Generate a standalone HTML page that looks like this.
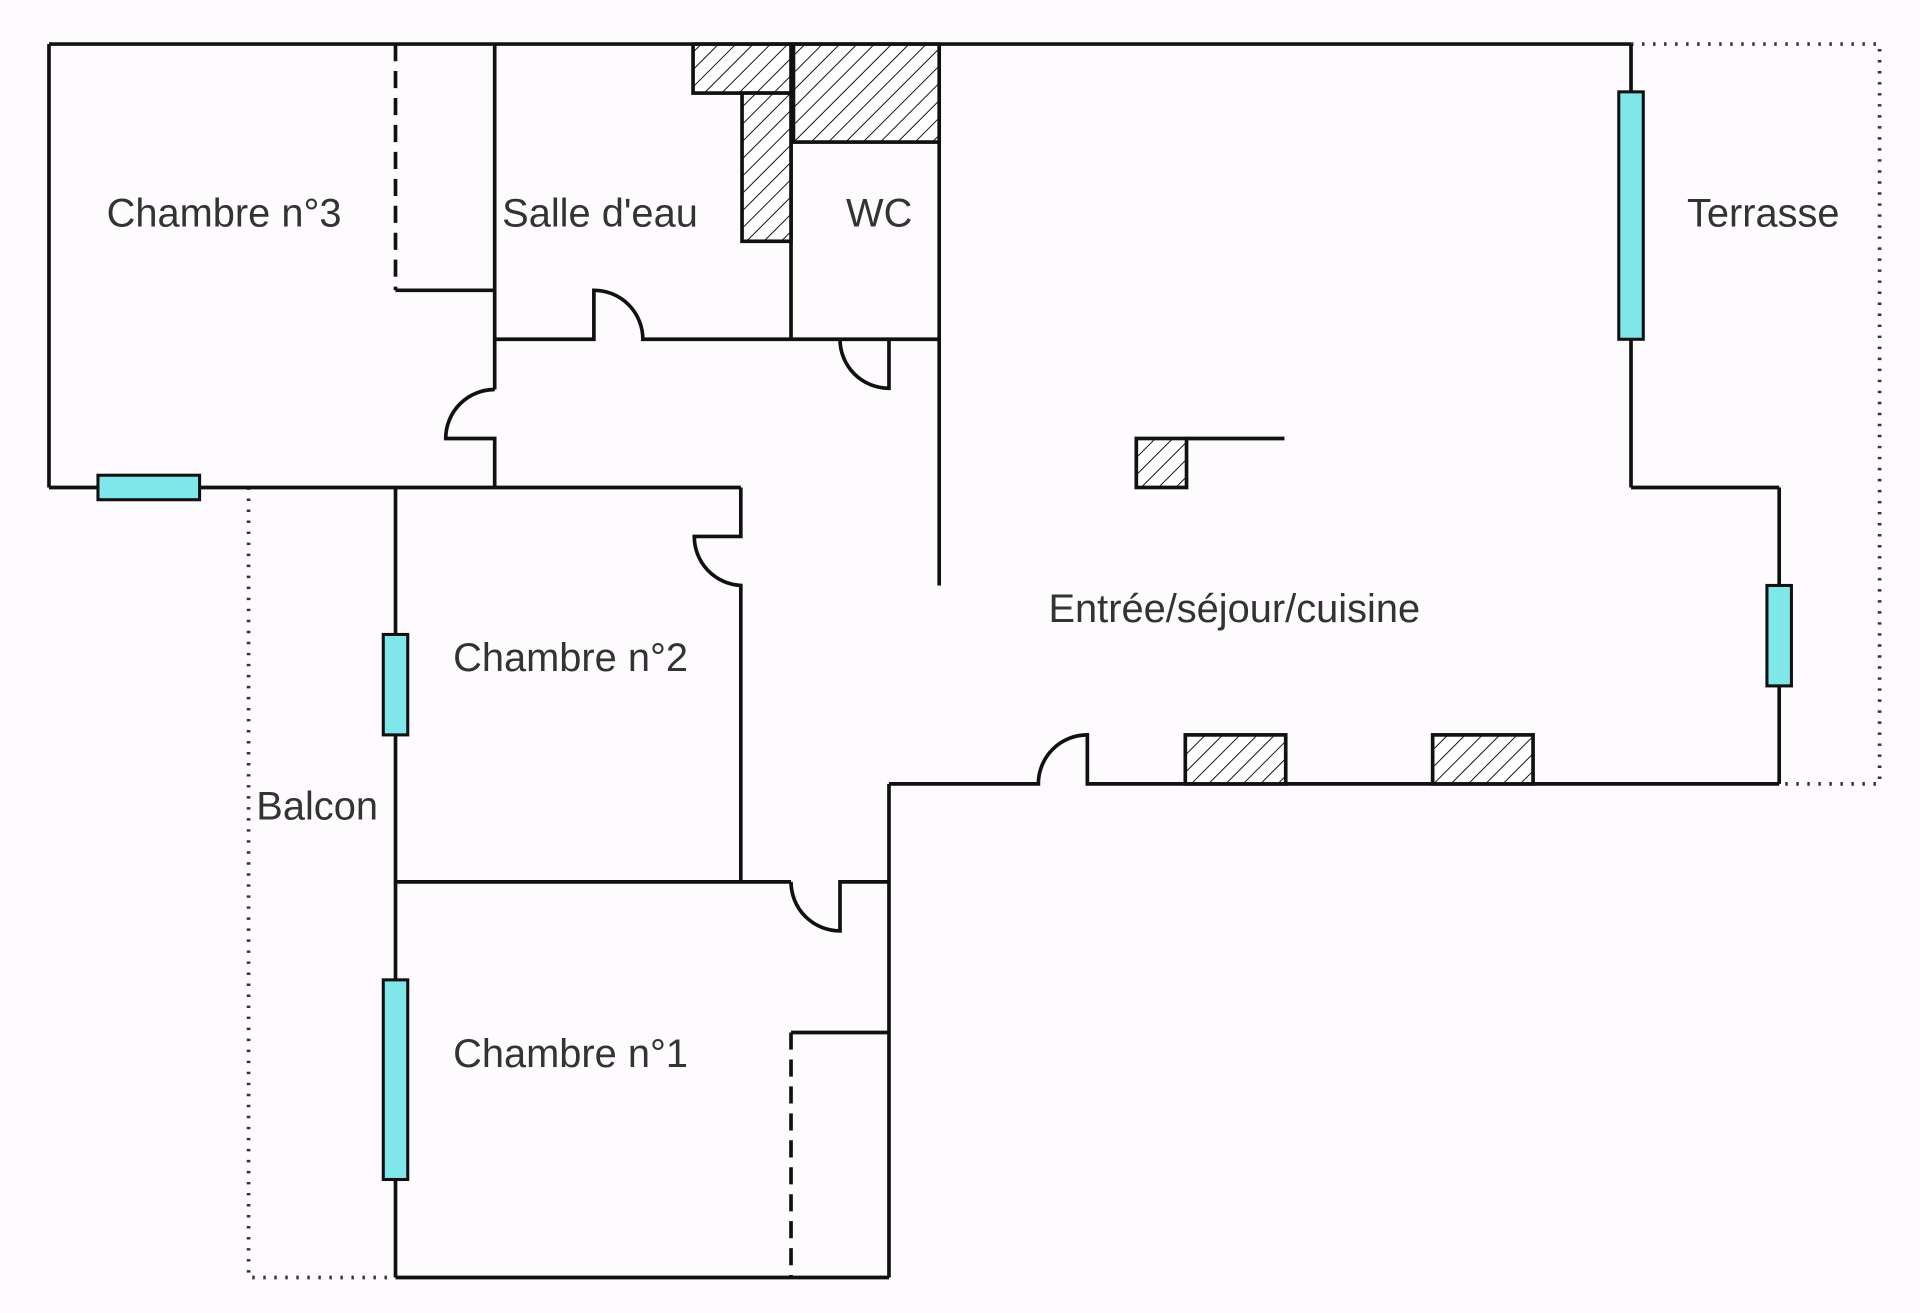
<!DOCTYPE html>
<html><head><meta charset="utf-8"><style>
html,body{margin:0;padding:0;background:#fdfbfd;}
svg{display:block;}
text{font-family:"Liberation Sans",sans-serif;font-size:32.5px;fill:#333;}
</style></head><body>
<svg width="1920" height="1313" viewBox="0 0 1568 1072" preserveAspectRatio="none" xmlns="http://www.w3.org/2000/svg">
<defs>
<pattern id="h" patternUnits="userSpaceOnUse" width="10" height="10" patternTransform="rotate(45)">
<rect width="10" height="10" fill="#fff"/><line x1="0" y1="0" x2="0" y2="10" stroke="#111" stroke-width="1.6"/>
</pattern>
</defs>
<rect width="1568" height="1072" fill="#fdfbfd"/>
<g fill="none" stroke="#333" stroke-width="3" stroke-dasharray="2,7">
<polyline points="1332,36 1535,36 1535,640 1453,640"/>
<polyline points="203,398 203,1043 323,1043"/>
</g>
<g fill="none" stroke="#111" stroke-width="3">
<line x1="40" y1="36" x2="1332" y2="36"/>
<line x1="40" y1="36" x2="40" y2="398"/>
<line x1="40" y1="398" x2="605" y2="398"/>
<line x1="323" y1="36" x2="323" y2="237" stroke-dasharray="14,8"/>
<line x1="323" y1="237" x2="404" y2="237"/>
<line x1="404" y1="36" x2="404" y2="318"/>
<path d="M404,318 A40,40 0 0,0 364,358 L404,358 L404,398"/>
<path d="M404,277 L485,277 L485,237 A40,40 0 0,1 525,277 L767,277"/>
<line x1="646" y1="36" x2="646" y2="277"/>
<path d="M686,277 A40,40 0 0,0 726,317 L726,277"/>
<line x1="767" y1="36" x2="767" y2="478"/>
<line x1="323" y1="398" x2="323" y2="1043"/>
<path d="M605,398 L605,438 L567,438 A40,40 0 0,0 605,478 L605,720"/>
<line x1="323" y1="720" x2="646" y2="720"/>
<path d="M646,720 A40,40 0 0,0 686,760 L686,720 L726,720"/>
<line x1="726" y1="640" x2="726" y2="1043"/>
<line x1="323" y1="1043" x2="726" y2="1043"/>
<line x1="646" y1="843" x2="726" y2="843"/>
<line x1="646" y1="843" x2="646" y2="1043" stroke-dasharray="14,8"/>
<path d="M726,640 L848,640 A40,40 0 0,1 888,600 L888,640 L1453,640"/>
<line x1="1453" y1="398" x2="1453" y2="640"/>
<line x1="1332" y1="398" x2="1453" y2="398"/>
<line x1="1332" y1="36" x2="1332" y2="398"/>
<line x1="969" y1="358" x2="1049" y2="358"/>
</g>
<g fill="url(#h)" stroke="#111" stroke-width="3">
<rect x="566" y="36" width="80" height="40"/>
<rect x="606" y="76" width="40" height="121"/>
<rect x="648" y="36" width="119" height="80"/>
<rect x="928" y="358" width="41" height="40"/>
<rect x="968" y="600" width="82" height="40"/>
<rect x="1170" y="600" width="82" height="40"/>
</g>
<g fill="#7fe6ea" stroke="#111" stroke-width="2.5">
<rect x="80" y="388" width="83" height="20"/>
<rect x="313" y="518" width="20" height="82"/>
<rect x="313" y="800" width="20" height="163"/>
<rect x="1322" y="75" width="20" height="202"/>
<rect x="1443" y="478" width="20" height="82"/>
</g>
<g text-anchor="middle">
<text x="183" y="185">Chambre n°3</text>
<text x="490" y="185">Salle d'eau</text>
<text x="718" y="185">WC</text>
<text x="1440" y="185">Terrasse</text>
<text x="1008" y="508">Entrée/séjour/cuisine</text>
<text x="466" y="548">Chambre n°2</text>
<text x="259" y="669">Balcon</text>
<text x="466" y="871">Chambre n°1</text>
</g>
</svg>
</body></html>
